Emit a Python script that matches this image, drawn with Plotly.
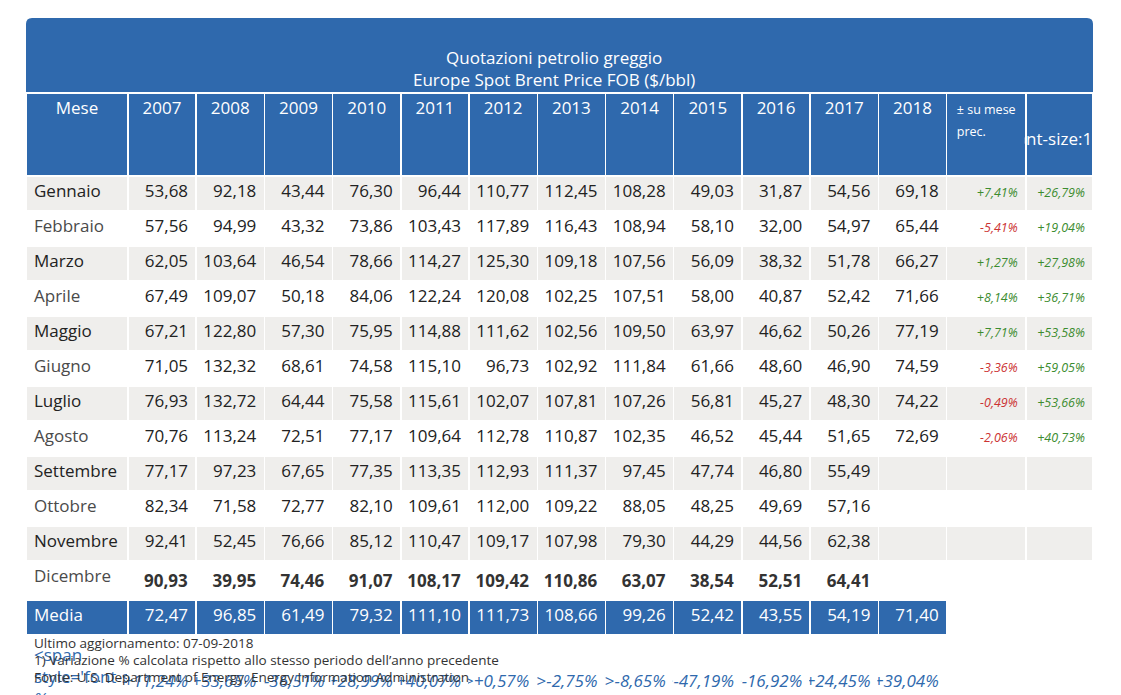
import plotly.graph_objects as go

W, H = 1121, 695

months = ["Gennaio", "Febbraio", "Marzo", "Aprile", "Maggio", "Giugno", "Luglio",
          "Agosto", "Settembre", "Ottobre", "Novembre", "Dicembre"]
years = ["2007", "2008", "2009", "2010", "2011", "2012", "2013", "2014",
         "2015", "2016", "2017", "2018"]

y2007 = [53.68, 57.56, 62.05, 67.49, 67.21, 71.05, 76.93, 70.76, 77.17, 82.34, 92.41, 90.93]
y2008 = [92.18, 94.99, 103.64, 109.07, 122.80, 132.32, 132.72, 113.24, 97.23, 71.58, 52.45, 39.95]
y2009 = [43.44, 43.32, 46.54, 50.18, 57.30, 68.61, 64.44, 72.51, 67.65, 72.77, 76.66, 74.46]
y2010 = [76.30, 73.86, 78.66, 84.06, 75.95, 74.58, 75.58, 77.17, 77.35, 82.10, 85.12, 91.07]
y2011 = [96.44, 103.43, 114.27, 122.24, 114.88, 115.10, 115.61, 109.64, 113.35, 109.61, 110.47, 108.17]
y2012 = [110.77, 117.89, 125.30, 120.08, 111.62, 96.73, 102.07, 112.78, 112.93, 112.00, 109.17, 109.42]
y2013 = [112.45, 116.43, 109.18, 102.25, 102.56, 102.92, 107.81, 110.87, 111.37, 109.22, 107.98, 110.86]
y2014 = [108.28, 108.94, 107.56, 107.51, 109.50, 111.84, 107.26, 102.35, 97.45, 88.05, 79.30, 63.07]
y2015 = [49.03, 58.10, 56.09, 58.00, 63.97, 61.66, 56.81, 46.52, 47.74, 48.25, 44.29, 38.54]
y2016 = [31.87, 32.00, 38.32, 40.87, 46.62, 48.60, 45.27, 45.44, 46.80, 49.69, 44.56, 52.51]
y2017 = [54.56, 54.97, 51.78, 52.42, 50.26, 46.90, 48.30, 51.65, 55.49, 57.16, 62.38, 64.41]
y2018 = [69.18, 65.44, 66.27, 71.66, 77.19, 74.59, 74.22, 72.69, None, None, None, None]
year_values = [y2007, y2008, y2009, y2010, y2011, y2012, y2013, y2014, y2015, y2016, y2017, y2018]

var_mese = [7.41, -5.41, 1.27, 8.14, 7.71, -3.36, -0.49, -2.06, None, None, None, None]
var_2017 = [26.79, 19.04, 27.98, 36.71, 53.58, 59.05, 53.66, 40.73, None, None, None, None]

media = [72.47, 96.85, 61.49, 79.32, 111.10, 111.73, 108.66, 99.26, 52.42, 43.55, 54.19, 71.40]
variazione = [11.24, 33.65, -36.51, 28.99, 40.07, 0.57, -2.75, -8.65, -47.19, -16.92, 24.45, 39.04]

BLUE = "#2f69ad"
GRAY = "#efeeec"
GREEN = "#3c8c2f"
RED = "#cc3333"


def num(v):
    return "" if v is None else f"{v:,.2f}".replace(",", "X").replace(".", ",").replace("X", ".")


def pct(v):
    return "" if v is None else ("+" if v >= 0 else "") + num(v) + "%"


def small(t, size=13):
    return f"<span style='font-size:{size}px'><i>{t}</i></span>" if t else ""


row_fill = [GRAY if i % 2 == 0 else "white" for i in range(12)]
row_txt = ["#222222" if i % 2 == 0 else "#4a4a4a" for i in range(12)]

values, fills, colors, sizes = [], [], [], []

# Mese column
values.append(months + ["Media", small("Variazione¹ %")])
fills.append(row_fill + [BLUE, "white"])
colors.append(row_txt + ["white", BLUE])
sizes.append(17)

for yv, m, v in zip(year_values, media, variazione):
    col = [num(x) for x in yv]
    col[11] = f"<b>{col[11]}</b>" if col[11] else ""
    values.append(col + [num(m), small(pct(v))])
    fills.append(row_fill + [BLUE, "white"])
    colors.append(["#222222"] * 11 + ["#333333", "white", BLUE])
    sizes.append(17)

for pv in (var_mese, var_2017):
    values.append([f"<i>{pct(x)}</i>" if x is not None else "" for x in pv] + ["", ""])
    fills.append(row_fill + ["white", "white"])
    colors.append([(GREEN if (x is not None and x >= 0) else RED) for x in pv] + ["white", "white"])
    sizes.append(12.5)

headers = ["Mese"] + years + ["<span style='font-size:12.5px'>± su mese<br>prec.</span>",
                              "<span style='font-size:12.5px'>± 2017</span>"]

col_w = [103] + [69] * 11 + [69, 80, 68]

x0, x1 = 18 / W, 1085 / W
top = 85

fig = go.Figure(go.Table(
    domain=dict(x=[x0, x1], y=[0, 1 - top / H]),
    columnwidth=col_w,
    header=dict(
        values=headers,
        fill_color=BLUE,
        line=dict(color="white", width=1.5),
        font=dict(family="Open Sans", size=17, color="white"),
        align="center",
        height=47,
    ),
    cells=dict(
        values=values,
        fill_color=fills,
        line=dict(color="white", width=1.5),
        font=dict(family="Open Sans", size=sizes, color=colors),
        align=["left"] + ["right"] * 14,
        height=35,
    ),
))

# title band with rounded top corners
r = 6
ya, yb = 1 - 10 / H, 1 - 84 / H
rx, ry = r / W, r / H
fig.add_shape(
    type="path", xref="paper", yref="paper",
    path=(f"M {x0},{yb} L {x0},{ya - ry} Q {x0},{ya} {x0 + rx},{ya} "
          f"L {x1 - rx},{ya} Q {x1},{ya} {x1},{ya - ry} L {x1},{yb} Z"),
    fillcolor=BLUE, line=dict(width=0),
)
fig.add_annotation(
    x=(x0 + x1) / 2 - 0.005, y=1 - 36 / H, xref="paper", yref="paper",
    text="Quotazioni petrolio greggio<br>Europe Spot Brent Price FOB ($/bbl)",
    showarrow=False, font=dict(family="Open Sans", size=17, color="white"),
)

notes = ["Ultimo aggiornamento: 07-09-2018",
         "1) Variazione % calcolata rispetto allo stesso periodo dell’anno precedente",
         "Fonte: U.S. Department of Energy, Energy Information Administration"]
for i, t in enumerate(notes):
    fig.add_annotation(
        x=24 / W, y=1 - (635 + 17 * i) / H, xref="paper", yref="paper",
        text=t, showarrow=False, xanchor="left", yanchor="middle",
        font=dict(family="Open Sans", size=13.5, color="#333333"),
    )

fig.update_layout(
    width=W, height=H,
    margin=dict(l=0, r=0, t=0, b=0),
    paper_bgcolor="white",
)

fig.write_html("out.html")
